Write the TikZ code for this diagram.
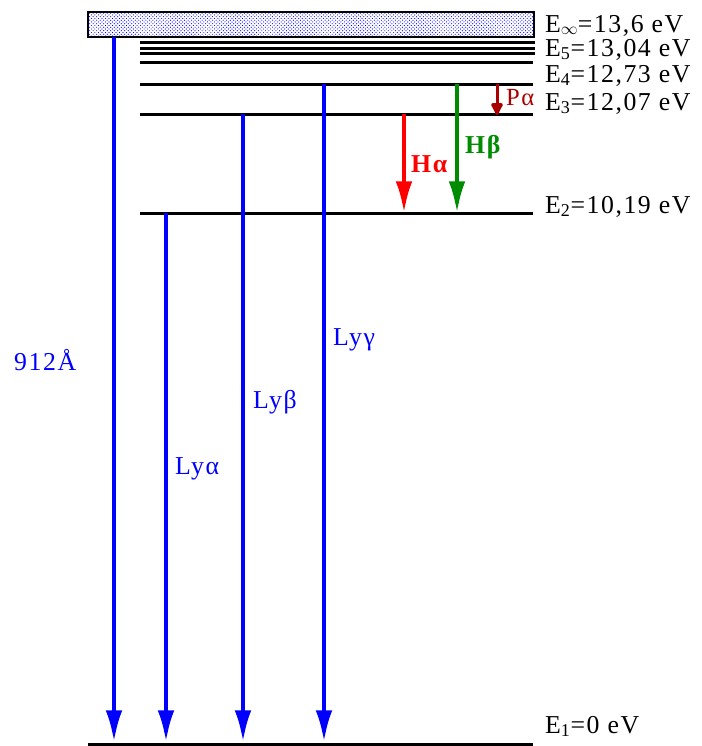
\documentclass[tikz,border=0pt]{standalone}
\usepackage{fontspec}
\setmainfont[LetterSpace=6]{Liberation Serif}
\usetikzlibrary{arrows.meta,patterns}
\definecolor{pdark}{RGB}{170,0,0}
\definecolor{hgreen}{RGB}{0,140,0}
\tikzset{
  level/.style={line width=0.09cm},
  trans/.style={line width=0.12cm, -{Latex[length=0.95cm, width=0.5cm]}},
  lbl/.style={anchor=base west, inner sep=0pt},
}
\begin{document}
\begin{tikzpicture}[x=0.03cm, y=-0.03cm, font=\fontsize{22}{24}\selectfont]
  \useasboundingbox (0,0) rectangle (702,746);
  % Continuum
  \draw[line width=0.06cm, pattern=crosshatch dots, pattern color=blue] (88,12) rectangle (534,37);
  % Levels
  \foreach \y in {42,48,53}
    \draw[level] (140,\y) -- (535,\y);
  \foreach \y in {62,84,114,213}
    \draw[level] (140,\y) -- (533,\y);
  \draw[level] (88,744) -- (533,744);
  % Lyman series (blue)
  \foreach \n/\x/\y in {lim/114/37, lya/166/213, lyb/243/114, lyc/324/84} {
    \coordinate (\n-a) at (\x,\y);
    \coordinate (\n-b) at (\x,742);
    \draw[trans, blue] (\n-a) -- (\n-b);
  }
  % Balmer (red, green)
  \coordinate (ha-a) at (404,114); \coordinate (ha-b) at (404,213);
  \coordinate (hb-a) at (457,84);  \coordinate (hb-b) at (457,213);
  \draw[trans, red] (ha-a) -- (ha-b);
  \draw[trans, hgreen] (hb-a) -- (hb-b);
  % Paschen (dark red)
  \coordinate (pa-a) at (497,84); \coordinate (pa-b) at (497,115);
  \draw[line width=0.09cm, pdark, -{Latex[round, length=0.45cm, width=0.45cm]}] (pa-a) -- (pa-b);
  % Transition labels
  \node[lbl, text=blue] (t-lim) at (14,370) {912Å};
  \node[lbl, text=blue] (t-lya) at (175,474) {Lyα};
  \node[lbl, text=blue] (t-lyb) at (253,408) {Lyβ};
  \node[lbl, text=blue] (t-lyc) at (333,345) {Lyγ};
  \node[lbl, text=red, font=\fontsize{22}{24}\selectfont\bfseries] (t-ha) at (411,172) {Hα};
  \node[lbl, text=hgreen, font=\fontsize{22}{24}\selectfont\bfseries] (t-hb) at (465,153) {Hβ};
  \node[lbl, text=pdark, font=\fontsize{21}{23}\selectfont] (t-pa) at (506,105) {Pα};
  % Level labels
  \node[lbl] (l-inf) at (545,32) {E\raisebox{-0.08em}{$\scriptstyle\infty$}=13,6 eV};
  \node[lbl] (l-5) at (545,56) {E\textsubscript{5}=13,04 eV};
  \node[lbl] (l-4) at (545,82) {E\textsubscript{4}=12,73 eV};
  \node[lbl] (l-3) at (545,110) {E\textsubscript{3}=12,07 eV};
  \node[lbl] (l-2) at (545,213) {E\textsubscript{2}=10,19 eV};
  \node[lbl] (l-1) at (545,733) {E\textsubscript{1}=0 eV};
\end{tikzpicture}
\end{document}
